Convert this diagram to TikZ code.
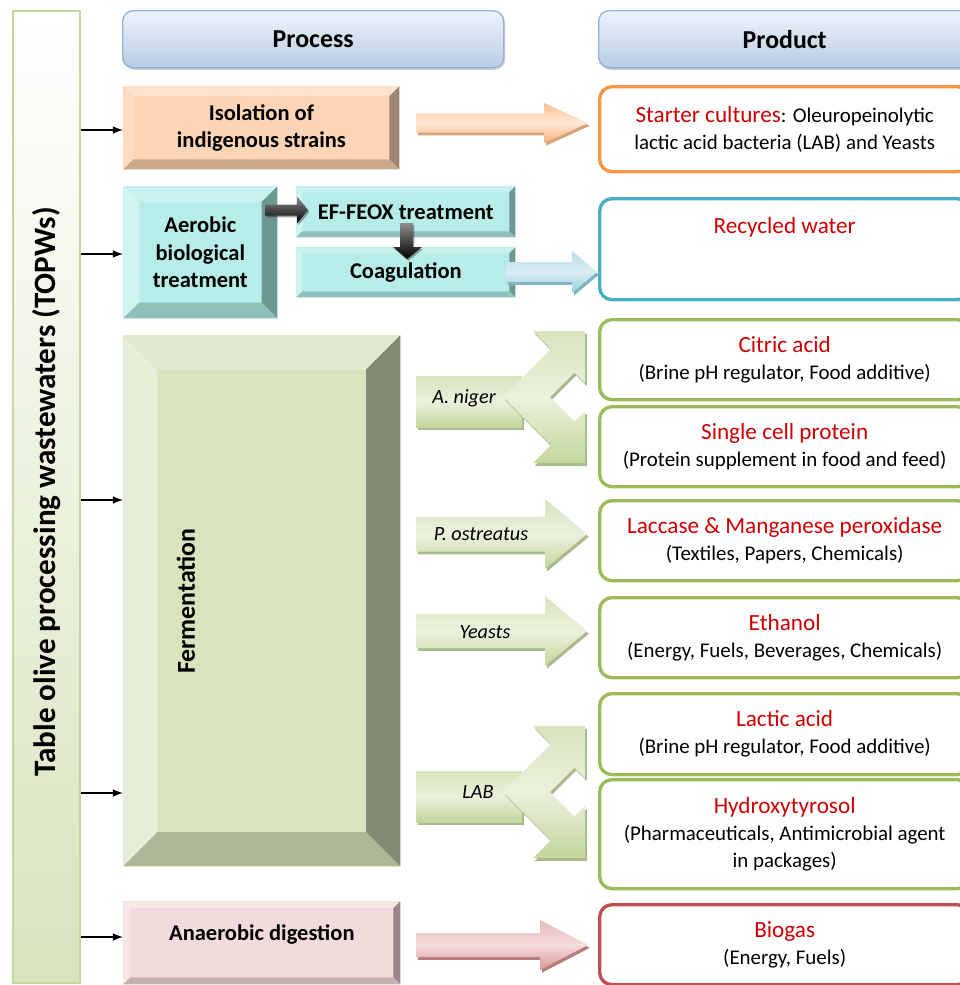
\documentclass[tikz,border=0pt]{standalone}
\usepackage{fontspec}
\setmainfont{Carlito}
\usetikzlibrary{calc,shapes,arrows,shadows,positioning}

\definecolor{prodred}{HTML}{CC0000}
\definecolor{headtop}{HTML}{EEF3FA}
\definecolor{headbot}{HTML}{B8CCE4}
\definecolor{headline}{HTML}{95B3D7}
\definecolor{barline}{HTML}{C3D69B}
\definecolor{barbot}{HTML}{D7E4BD}
\definecolor{orgline}{HTML}{F79646}
\definecolor{blueline}{HTML}{4BACC6}
\definecolor{grnline}{HTML}{9BBB59}
\definecolor{redline}{HTML}{C0504D}
% bevel colours: face / top / left / right / bottom
\definecolor{isoface}{HTML}{FBD5B5}
\definecolor{isotop}{HTML}{FCE3CF}
\definecolor{isoleft}{HTML}{FDDCC3}
\definecolor{isoright}{HTML}{9D8572}
\definecolor{isobot}{HTML}{C9A88C}
\definecolor{aerface}{HTML}{B6EDE8}
\definecolor{aertop}{HTML}{C8F2EE}
\definecolor{aerleft}{HTML}{D0F4F1}
\definecolor{aerright}{HTML}{6C9894}
\definecolor{aerbot}{HTML}{90C0BB}
\definecolor{ferface}{HTML}{D7E4BD}
\definecolor{fertop}{HTML}{E1EAD0}
\definecolor{ferleft}{HTML}{E6EEDA}
\definecolor{ferright}{HTML}{818B71}
\definecolor{ferbot}{HTML}{ACB897}
\definecolor{anaface}{HTML}{F2DCDB}
\definecolor{anatop}{HTML}{F6E6E5}
\definecolor{analeft}{HTML}{F6E6E5}
\definecolor{anaright}{HTML}{9B8787}
\definecolor{anabot}{HTML}{C4B1B0}
% block arrows
\definecolor{oatop}{HTML}{FAC090}
\definecolor{oamid}{HTML}{FDE9D9}
\definecolor{oabot}{HTML}{F9B07A}
\definecolor{oashd}{HTML}{D9A47C}
\definecolor{batop}{HTML}{B7DEE8}
\definecolor{bamid}{HTML}{DAEEF3}
\definecolor{babot}{HTML}{93CDDD}
\definecolor{bashd}{HTML}{7FB2C2}
\definecolor{gatop}{HTML}{D7E4BD}
\definecolor{gamid}{HTML}{EBF1DE}
\definecolor{gabot}{HTML}{C3D69B}
\definecolor{gashd}{HTML}{A9BA8C}
\definecolor{ratop}{HTML}{E6B9B8}
\definecolor{ramid}{HTML}{F2DCDB}
\definecolor{rabot}{HTML}{D99694}
\definecolor{rashd}{HTML}{B57C7B}

\def\pxu{0.02cm}
\def\ttlfont{\fontsize{13.2}{15.3}\selectfont\color{prodred}}

\tikzset{
  bevel/.style n args={6}{rectangle, inner sep=0pt, anchor=north west, fill=#2, align=center,
    font=\bfseries\fontsize{12.8}{15.6}\selectfont,
    path picture={
      \coordinate (bsw) at (path picture bounding box.south west);
      \coordinate (bne) at (path picture bounding box.north east);
      \coordinate (bnw) at (bsw |- bne);
      \coordinate (bse) at (bne |- bsw);
      \fill[#3] (bnw) -- (bne) -- ([shift={(-#1,-#1)}]bne) -- ([shift={(#1,-#1)}]bnw) -- cycle;
      \fill[#4] (bnw) -- ([shift={(#1,-#1)}]bnw) -- ([shift={(#1,#1)}]bsw) -- (bsw) -- cycle;
      \fill[#5] (bne) -- (bse) -- ([shift={(-#1,#1)}]bse) -- ([shift={(-#1,-#1)}]bne) -- cycle;
      \fill[#6] (bsw) -- (bse) -- ([shift={(-#1,#1)}]bse) -- ([shift={(#1,#1)}]bsw) -- cycle;
    }},
  isobox/.style={bevel={5.7pt}{isoface}{isotop}{isoleft}{isoright}{isobot}},
  aerbox/.style={bevel={#1}{aerface}{aertop}{aerleft}{aerright}{aerbot}},
  ferbox/.style={bevel={19.5pt}{ferface}{fertop}{ferleft}{ferright}{ferbot}},
  anabox/.style={bevel={4pt}{anaface}{anatop}{analeft}{anaright}{anabot}},
  headbox/.style={draw=headline, line width=0.8pt, rounded corners=6pt, top color=headtop,
    bottom color=headbot, anchor=north west, minimum height=57*\pxu, inner sep=0pt,
    font=\bfseries\fontsize{14.7}{17}\selectfont,
    drop shadow={fill=black, opacity=0.2, shadow xshift=0.8pt, shadow yshift=-1.2pt}},
  prodbox/.style={draw=#1, line width=1.9pt, rounded corners=7pt, fill=white, anchor=north west,
    minimum width=370*\pxu, inner sep=0pt, align=center, font=\fontsize{11.9}{15.3}\selectfont},
  orgarrow/.style={top color=oatop, bottom color=oabot, middle color=oamid,
    drop shadow={fill=oashd, opacity=1, shadow xshift=1pt, shadow yshift=-1.6pt}},
  bluarrow/.style={top color=batop, bottom color=babot, middle color=bamid,
    drop shadow={fill=bashd, opacity=1, shadow xshift=1pt, shadow yshift=-1.6pt}},
  grnarrow/.style={top color=gatop, bottom color=gabot, middle color=gamid,
    drop shadow={fill=gashd, opacity=1, shadow xshift=1pt, shadow yshift=-1.6pt}},
  redarrow/.style={top color=ratop, bottom color=rabot, middle color=ramid,
    drop shadow={fill=rashd, opacity=1, shadow xshift=1pt, shadow yshift=-1.6pt}},
  blkarrow/.style={top color=black!45, bottom color=black,
    drop shadow={fill=black, opacity=0.35, shadow xshift=0.8pt, shadow yshift=-1pt}},
  arrlabel/.style={font=\itshape\fontsize{11.5}{14}\selectfont},
  thinarrow/.style={-latex, line width=1pt}
}

\begin{document}
\begin{tikzpicture}[x=0.02cm, y=-0.02cm]
\useasboundingbox (0,0) rectangle (960,985);

% horizontal block arrow: [style](start, head base, tip, y, shaft half, head half)
\def\blockarr[#1](#2,#3,#4,#5,#6,#7){%
  \path[#1] (#2,#5-#6) -- (#3,#5-#6) -- (#3,#5-#7) -- (#4,#5) -- (#3,#5+#7)
    -- (#3,#5+#6) -- (#2,#5+#6) -- cycle;}
% split arrow: [style](y)
\def\splitarr[#1](#2){%
  \path[#1] (416,#2-21) rectangle (522,#2+30);
  \path[#1] (503,#2) -- (551,#2-48) -- (533,#2-66) -- (585,#2-66) -- (585,#2-14)
    -- (574.5,#2-24.5) -- (550,#2) -- (574.5,#2+24.5) -- (585,#2+14) -- (585,#2+66)
    -- (533,#2+66) -- (551,#2+48) -- cycle;}

% source bar
\node[draw=barline, line width=0.9pt, top color=white, bottom color=barbot, anchor=north west,
  minimum width=67*\pxu, minimum height=972*\pxu, inner sep=0pt] (bar) at (12,10) {};
\node[rotate=90, font=\bfseries\fontsize{17.7}{20}\selectfont] (bartxt) at (47,492)
  {Table olive processing wastewaters (TOPWs)};

% headers
\node[headbox, minimum width=381*\pxu] (proc) at (122,10) {Process};
\node[headbox, minimum width=372*\pxu] (prod) at (598,10) {Product};

% process boxes
\node[isobox, minimum width=276*\pxu, minimum height=83*\pxu] (iso) at (123,86)
  {Isolation of\\indigenous strains};
\node[aerbox=9pt, minimum width=154*\pxu, minimum height=132*\pxu] (aer) at (123,186)
  {Aerobic\\biological\\treatment};
\node[aerbox=3.4pt, minimum width=219*\pxu, minimum height=51*\pxu] (efx) at (296,186)
  {EF-FEOX treatment};
\node[aerbox=3.4pt, minimum width=219*\pxu, minimum height=50*\pxu] (coag) at (296,247)
  {Coagulation};
\node[ferbox, minimum width=277*\pxu, minimum height=531*\pxu] (ferm) at (123,335) {};
\node[rotate=90, font=\bfseries\fontsize{14.7}{17}\selectfont] (fermtxt) at (186,601)
  {Fermentation};
\node[anabox, minimum width=277*\pxu, minimum height=83*\pxu] (anaer) at (123,901)
  {\raisebox{5pt}[\height][\depth]{Anaerobic digestion}};

% product boxes
\node[prodbox=orgline, minimum height=85*\pxu] (starter) at (598,85)
  {{\ttlfont Starter cultures}: Oleuropeinolytic\\lactic acid bacteria (LAB) and Yeasts};
\node[prodbox=blueline, minimum height=101*\pxu] (recyc) at (598,197)
  {\raisebox{12.5pt}[\height][\depth]{\ttlfont Recycled water}};
\foreach \nm/\y/\h/\ttl/\sub in {
  citric/318/80/{Citric acid}/{(Brine pH regulator, Food additive)},
  scp/405/80/{Single cell protein}/{(Protein supplement in food and feed)},
  laccase/499/80/{Laccase \& Manganese peroxidase}/{(Textiles, Papers, Chemicals)},
  ethanol/596/80/{Ethanol}/{(Energy, Fuels, Beverages, Chemicals)},
  lactic/692/81/{Lactic acid}/{(Brine pH regulator, Food additive)},
  hydroxy/778/109/{Hydroxytyrosol}/{(Pharmaceuticals, Antimicrobial agent\\in packages)}}
  \node[prodbox=grnline, minimum height=\h*\pxu] (\nm) at (598,\y) {{\ttlfont\ttl}\\\sub};
\node[prodbox=redline, minimum height=80*\pxu] (biogas) at (598,903)
  {{\ttlfont Biogas}\\(Energy, Fuels)};

% block arrows
\blockarr[orgarrow](416,544,588,123,9.5,20)
\blockarr[bluarrow](506,572,597,272,10,21)
\blockarr[blkarrow](265,297,308,210,5.5,13.5)
\path[blkarrow] (400,223) -- (400,247) -- (393,247) -- (407,259) -- (422,247)
  -- (413,247) -- (413,223) -- cycle;
\splitarr[grnarrow](397)
\blockarr[grnarrow](416,545,587,534,17.5,35)
\blockarr[grnarrow](416,545,587,631,17,35)
\splitarr[grnarrow](792)
\blockarr[redarrow](416,540,588,945,12,25)

\node[arrlabel] (niger) at (464,398) {A. niger};
\node[arrlabel] (ostr) at (481,534) {P. ostreatus};
\node[arrlabel] (yeast) at (485,632) {Yeasts};
\node[arrlabel] (lab) at (478,792) {LAB};

% inputs from the wastewater bar
\foreach \tgt/\yy in {iso/130, aer/254, ferm/500, ferm/793, anaer/937}
  \draw[thinarrow] (bar.east |- 0,\yy) -- (\tgt.west |- 0,\yy);

\end{tikzpicture}
\end{document}
